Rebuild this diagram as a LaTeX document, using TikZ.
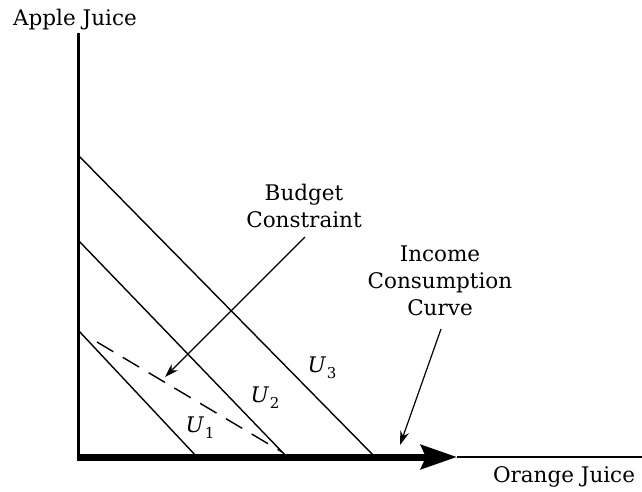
\documentclass[tikz,border=0pt]{standalone}
\usepackage{fontspec}
\setmainfont{DejaVu Serif}
\usetikzlibrary{arrows.meta}
\newcommand{\ulab}[1]{\textit{U}\kern0.5pt\raisebox{-0.28em}{\fontsize{15}{15}\selectfont #1}}
\begin{document}
\begin{tikzpicture}[x=1pt,y=-1pt,
  lbl/.style={font=\fontsize{21.5}{27}\selectfont, align=center, inner sep=0pt},
  ulbl/.style={font=\fontsize{21.5}{24}\selectfont, inner sep=0pt},
  curve/.style={line width=1.4pt},
  pointer/.style={line width=1.2pt, -{Stealth[length=14pt,width=9pt]}}]
\useasboundingbox (0,0) rectangle (642,491);
% axes
\coordinate (O) at (78,457);
\coordinate (ytop) at (78,33);
\coordinate (xtip) at (457,457);
\coordinate (xend) at (642,457);
\draw[line width=3pt] (ytop) -- (O);
\draw[line width=1.4pt] (xtip) -- (xend);
\draw[line width=7pt, -{Stealth[length=36pt,width=24pt,inset=5pt]}] (76.5,457) -- (xtip);
\node[lbl] (ylab) at (75,20) {Apple Juice};
\node[lbl] (xlab) at (564,477) {Orange Juice};
% indifference curves
\coordinate (u1a) at (78,330);
\coordinate (u1b) at (197,457);
\coordinate (u2a) at (78,240);
\coordinate (u2b) at (287,457);
\coordinate (u3a) at (78,155);
\coordinate (u3b) at (375,457);
\draw[curve] (u1a) -- (u1b);
\draw[curve] (u2a) -- (u2b);
\draw[curve] (u3a) -- (u3b);
\node[ulbl] (U1) at (200,428) {\ulab{1}};
\node[ulbl] (U2) at (265,398) {\ulab{2}};
\node[ulbl] (U3) at (322,368) {\ulab{3}};
% budget constraint (dashed)
\coordinate (bca) at (97,342);
\coordinate (bcb) at (282,452);
\draw[curve, dash pattern=on 19pt off 11pt] (bca) -- (bcb);
% labels and pointers
\node[lbl] (bc) at (304,206) {Budget\\Constraint};
\node[lbl] (icc) at (440,281) {Income\\Consumption\\Curve};
\coordinate (bcfrom) at (305,237);
\coordinate (bcto) at (165,377);
\draw[pointer] (bcfrom) -- (bcto);
\coordinate (iccfrom) at (441,329);
\coordinate (iccto) at (400,445);
\draw[pointer] (iccfrom) -- (iccto);
\end{tikzpicture}
\end{document}
